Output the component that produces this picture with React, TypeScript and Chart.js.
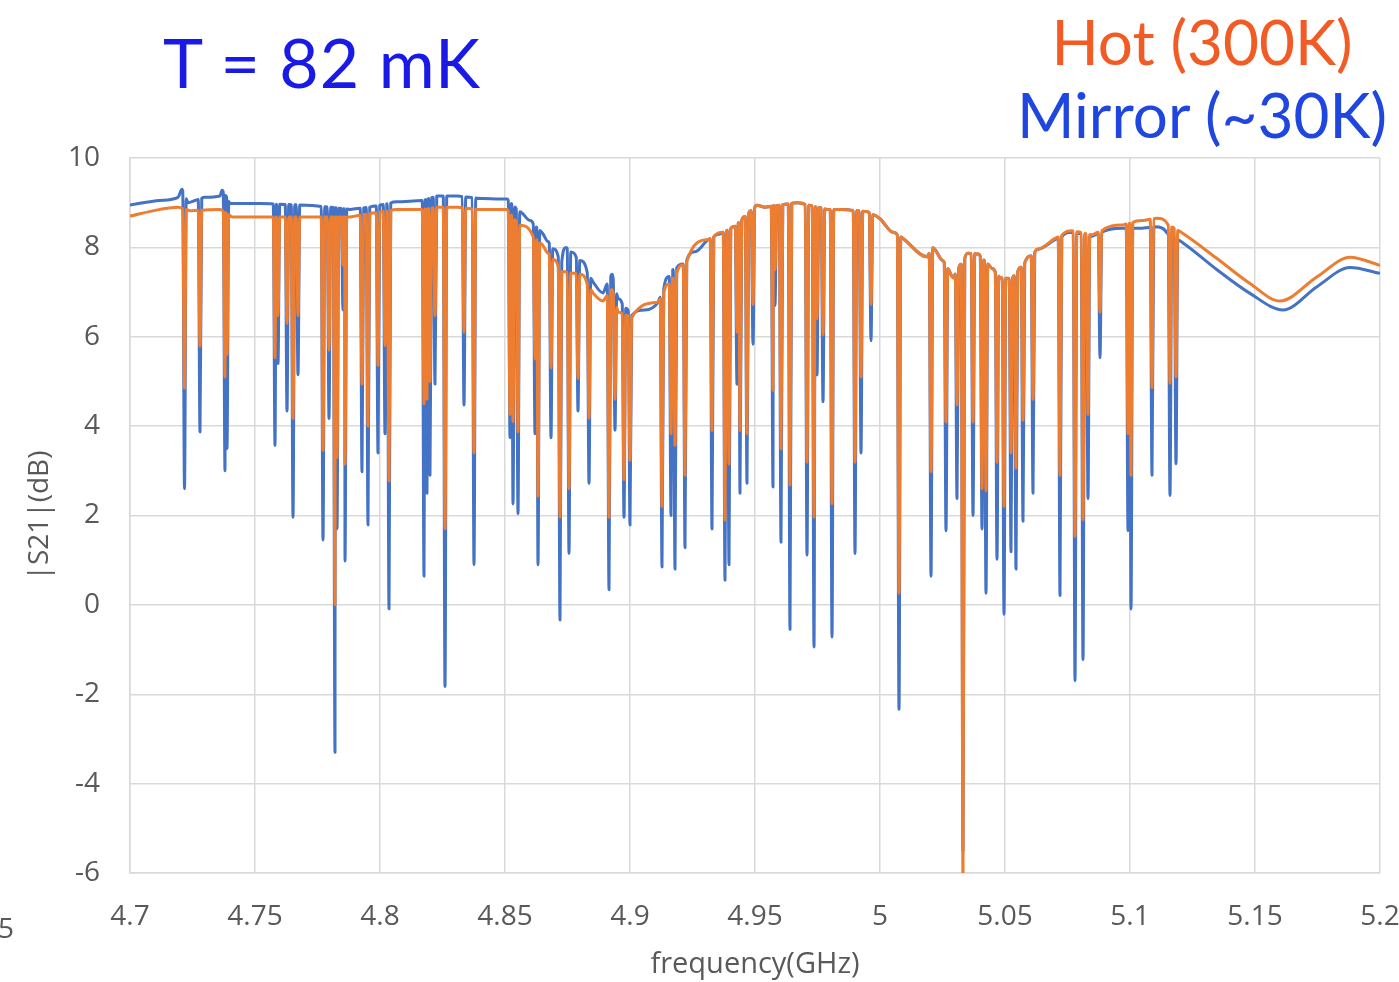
import React, { useEffect, useRef } from "react";
import { Chart, registerables } from "chart.js";

Chart.register(...registerables);

// ---- axis ticks ----
const xTickValues = [4.7, 4.75, 4.8, 4.85, 4.9, 4.95, 5.0, 5.05, 5.1, 5.15, 5.2];
const xTickLabels = ["4.7", "4.75", "4.8", "4.85", "4.9", "4.95", "5", "5.05", "5.1", "5.15", "5.2"];
const yTickValues = [-6, -4, -2, 0, 2, 4, 6, 8, 10];

// ---- Mirror (~30K) baseline (GHz, dB) ----
const mirrorBaseF = [
  4.7, 4.712, 4.7192, 4.7208, 4.7232, 4.726, 4.73, 4.736, 4.7368, 4.74, 4.752, 4.768, 4.78, 4.788,
  4.796, 4.8068, 4.8172, 4.8228, 4.8308, 4.8388, 4.8508, 4.8548, 4.86, 4.8652, 4.8672, 4.8728,
  4.8744, 4.88, 4.8852, 4.8892, 4.8928, 4.8952, 4.9008, 4.906, 4.9112, 4.9168, 4.9212, 4.926,
  4.9312, 4.936, 4.942, 4.9508, 4.954, 4.9668, 4.9788, 4.984, 4.9948, 5.0, 5.0052, 5.0092, 5.0188,
  5.0212, 5.0252, 5.0292, 5.0352, 5.0392, 5.0448, 5.048, 5.0528, 5.058, 5.0632, 5.07, 5.0768,
  5.0848, 5.0888, 5.0968, 5.1048, 5.11, 5.1212, 5.1348, 5.148, 5.1612, 5.1748, 5.188, 5.2,
];
const mirrorBaseV = [
  8.95, 9.05, 9.12, 9.3, 9.0, 9.05, 9.12, 9.15, 9.28, 8.98, 8.98, 8.95, 8.9, 8.85,
  8.9, 9.02, 9.05, 9.15, 9.15, 9.1, 9.08, 8.85, 8.6, 8.3, 8.13, 7.66,
  8.0, 7.7, 7.23, 6.98, 7.4, 6.85, 6.47, 6.6, 6.77, 7.49, 7.62, 7.9,
  8.17, 8.3, 8.47, 8.94, 8.9, 9.0, 8.85, 8.85, 8.8, 8.64, 8.34, 8.2, 7.79,
  8.0, 7.7, 7.32, 7.87, 7.85, 7.53, 7.32, 7.3, 7.66, 7.96, 8.17, 8.34,
  8.25, 8.34, 8.43, 8.43, 8.46, 8.1, 7.5, 6.97, 6.6, 7.12, 7.55, 7.42,
];

// ---- Hot (300K) baseline (GHz, dB) ----
const hotBaseF = [
  4.7, 4.712, 4.7192, 4.724, 4.736, 4.7408, 4.768, 4.78, 4.788, 4.8068, 4.8172, 4.8228, 4.8308,
  4.8388, 4.8508, 4.8548, 4.8652, 4.8672, 4.8728, 4.88, 4.8852, 4.8892, 4.8928, 4.8952, 4.9008,
  4.9112, 4.9168, 4.9212, 4.9312, 4.942, 4.9508, 4.954, 4.9668, 4.9788, 4.984, 4.9948, 5.0,
  5.0052, 5.0092, 5.0188, 5.0212, 5.0252, 5.0292, 5.0352, 5.0392, 5.0448, 5.048, 5.0528, 5.058,
  5.0632, 5.07, 5.0768, 5.0848, 5.0888, 5.0968, 5.1048, 5.1108, 5.1212, 5.1348, 5.148, 5.16,
  5.1748, 5.188, 5.2,
];
const hotBaseV = [
  8.7, 8.85, 8.9, 8.82, 8.85, 8.68, 8.68, 8.68, 8.68, 8.85, 8.85, 8.9, 8.9,
  8.85, 8.85, 8.55, 8.04, 7.87, 7.45, 7.4, 6.98, 6.8, 7.06, 6.55, 6.43,
  6.77, 7.28, 7.6, 8.17, 8.47, 8.94, 8.9, 9.0, 8.85, 8.85, 8.8, 8.64,
  8.34, 8.2, 7.79, 8.0, 7.7, 7.32, 7.87, 7.85, 7.53, 7.32, 7.3, 7.66,
  7.96, 8.2, 8.37, 8.28, 8.37, 8.5, 8.6, 8.65, 8.31, 7.75, 7.19, 6.8,
  7.34, 7.78, 7.6,
];

// ---- resonance dips: frequency (GHz), minimum for Mirror, minimum for Hot (dB) ----
const dipFreq = [
  4.7218, 4.728, 4.738, 4.7388, 4.758, 4.7592, 4.7628, 4.7652, 4.7672, 4.7772, 4.7796, 4.782,
  4.7828, 4.7852, 4.786, 4.7928, 4.7952, 4.7992, 4.802, 4.8036, 4.8176, 4.8188, 4.82, 4.822,
  4.826, 4.8336, 4.8376, 4.852, 4.8532, 4.8552, 4.862, 4.8632, 4.8684, 4.872, 4.8756, 4.8792,
  4.8836, 4.8916, 4.894, 4.8976, 4.9, 4.9128, 4.9164, 4.918, 4.922, 4.9328, 4.938, 4.9396,
  4.9428, 4.944, 4.9468, 4.9492, 4.9572, 4.958, 4.9604, 4.964, 4.9708, 4.9736, 4.9748, 4.9772,
  4.9808, 4.99, 4.9924, 4.9964, 5.0076, 5.0204, 5.0264, 5.0308, 5.0332, 5.0372, 5.0408, 5.0424,
  5.0468, 5.0496, 5.0524, 5.0544, 5.0572, 5.0612, 5.072, 5.078, 5.0812, 5.0832, 5.088, 5.0992,
  5.1004, 5.1088, 5.116, 5.1184,
];
const dipMirror = [
  2.6, 3.87, 3.0, 3.5, 3.57, 5.4, 4.34, 1.96, 5.15, 1.45, 4.17, -3.3,
  1.7, 6.6, 0.98, 2.98, 1.79, 3.4, 3.83, -0.09, 0.64, 2.5, 2.9, 4.94,
  -1.83, 4.47, 0.9, 3.74, 2.26, 2.04, 3.83, 0.9, 3.74, -0.34, 1.15, 4.34,
  2.72, 0.34, 3.91, 1.96, 1.79, 0.85, 2.0, 0.8, 1.28, 1.7, 0.55, 0.9,
  4.94, 2.5, 2.72, 5.83, 2.64, 6.7, 1.4, -0.55, 1.11, -0.94, 5.15, 4.55,
  -0.72, 1.15, 3.4, 5.91, -2.34, 0.64, 1.66, 2.38, -5.5, 2.0, 1.7, 0.26,
  1.02, -0.21, 1.19, 0.8, 1.87, 2.5, 0.21, -1.7, -1.23, 2.38, 5.53, 1.66,
  -0.09, 2.9, 2.45, 3.16,
];
const dipHot = [
  4.85, 5.79, 5.1, 5.6, 5.53, 6.47, 6.3, 4.17, 6.47, 3.45, 5.7, 0.0,
  3.3, 7.6, 3.15, 4.94, 4.0, 5.36, 5.8, 2.77, 4.5, 4.6, 5.0, 6.47,
  1.7, 6.1, 3.4, 4.26, 4.1, 3.87, 5.5, 2.43, 5.3, 1.96, 2.6, 5.06,
  4.17, 1.96, 4.6, 2.8, 3.23, 2.2, 3.83, 3.57, 2.9, 3.9, 1.9, 3.15,
  6.1, 3.9, 3.83, 6.72, 4.8, 7.5, 3.49, 2.68, 3.19, 1.96, 6.4, 6.04,
  2.26, 3.19, 5.1, 6.72, 0.26, 2.98, 4.09, 4.47, -6.2, 4.09, 2.6, 2.55,
  3.19, 2.2, 3.4, 3.06, 4.13, 4.6, 2.9, 1.53, 1.9, 4.26, 6.55, 3.83,
  2.9, 4.86, 4.96, 5.1,
];

const DIP_HALF_WIDTH = 0.0007;

function levelAt(fs: number[], vs: number[], f: number): number {
  if (f <= fs[0]) return vs[0];
  for (let i = 1; i < fs.length; i++) {
    if (f <= fs[i]) {
      const t = (f - fs[i - 1]) / (fs[i] - fs[i - 1]);
      return vs[i - 1] + t * (vs[i] - vs[i - 1]);
    }
  }
  return vs[vs.length - 1];
}

function buildSeries(fs: number[], vs: number[], mins: number[]) {
  const pts: { x: number; y: number }[] = [];
  fs.forEach((f, i) => {
    const nearDip = dipFreq.some((d) => Math.abs(d - f) < DIP_HALF_WIDTH * 1.2);
    if (!nearDip) pts.push({ x: f, y: vs[i] });
  });
  dipFreq.forEach((d, i) => {
    pts.push({ x: d - DIP_HALF_WIDTH, y: levelAt(fs, vs, d - DIP_HALF_WIDTH) });
    pts.push({ x: d, y: mins[i] });
    pts.push({ x: d + DIP_HALF_WIDTH, y: levelAt(fs, vs, d + DIP_HALF_WIDTH) });
  });
  pts.sort((a, b) => a.x - b.x);
  return pts;
}

const GRID = "#d9d9d9";
const TICK = "#595959";

export default function App() {
  const ref = useRef<HTMLCanvasElement | null>(null);

  useEffect(() => {
    if (!ref.current) return;
    const chart = new Chart(ref.current, {
      type: "line",
      data: {
        datasets: [
          {
            label: "Hot (300K)",
            data: buildSeries(hotBaseF, hotBaseV, dipHot),
            borderColor: "#ED7D31",
            borderWidth: 3,
            pointRadius: 0,
            cubicInterpolationMode: "monotone",
            borderJoinStyle: "round",
            order: 0,
          },
          {
            label: "Mirror (~30K)",
            data: buildSeries(mirrorBaseF, mirrorBaseV, dipMirror),
            borderColor: "#4472C4",
            borderWidth: 3,
            pointRadius: 0,
            cubicInterpolationMode: "monotone",
            borderJoinStyle: "round",
            order: 1,
          },
        ],
      },
      options: {
        responsive: false,
        maintainAspectRatio: false,
        devicePixelRatio: 1,
        animation: false,
        parsing: false,
        layout: { padding: { top: 158, right: 19, bottom: 0, left: 0 } },
        plugins: { legend: { display: false }, tooltip: { enabled: false } },
        scales: {
          x: {
            type: "linear",
            min: 4.7,
            max: 5.2,
            afterBuildTicks: (s: any) => {
              s.ticks = xTickValues.map((v) => ({ value: v }));
            },
            afterFit: (s: any) => {
              s.height = 109;
              s.paddingLeft = 0;
              s.paddingRight = 0;
            },
            grid: { color: GRID, lineWidth: 1.5, drawTicks: false },
            border: { color: GRID, width: 1.5 },
            ticks: {
              color: TICK,
              font: { family: "Open Sans", size: 28 },
              padding: 27,
              maxRotation: 0,
              autoSkip: false,
              callback: (_v: any, i: number) => xTickLabels[i],
            },
            title: {
              display: true,
              text: "frequency(GHz)",
              color: TICK,
              font: { family: "Open Sans", size: 29 },
              padding: { top: 0, bottom: 0 },
            },
          },
          y: {
            type: "linear",
            min: -6,
            max: 10,
            afterBuildTicks: (s: any) => {
              s.ticks = yTickValues.map((v) => ({ value: v }));
            },
            afterFit: (s: any) => {
              s.width = 130;
              s.paddingTop = 0;
              s.paddingBottom = 0;
            },
            grid: { color: GRID, lineWidth: 1.5, drawTicks: false },
            border: { color: GRID, width: 1.5 },
            ticks: {
              color: TICK,
              font: { family: "Open Sans", size: 28 },
              padding: 30,
              autoSkip: false,
              callback: (v: any) => String(v),
            },
            title: {
              display: true,
              text: "|S21|(dB)",
              color: TICK,
              font: { family: "Open Sans", size: 28 },
              padding: { top: 23, bottom: 0 },
            },
          },
        },
      },
    });
    return () => chart.destroy();
  }, []);

  return (
    <div style={{ position: "absolute", left: 0, top: 0, width: 1399, height: 982, background: "#fff", overflow: "hidden" }}>
      <canvas ref={ref} width={1399} height={982} style={{ position: "absolute", left: 0, top: 0 }} />
      <div
        style={{
          position: "absolute",
          left: 163,
          top: 28,
          fontFamily: "Lato",
          fontSize: 68,
          lineHeight: "68px",
          color: "#1a1ae6",
          whiteSpace: "nowrap",
          letterSpacing: 1,
        }}
      >
        T = 82 mK
      </div>
      <div
        style={{
          position: "absolute",
          left: 952,
          width: 500,
          top: 10,
          textAlign: "center",
          fontFamily: "Lato",
          fontSize: 62,
          lineHeight: "62px",
          color: "#f25c24",
          whiteSpace: "nowrap",
        }}
      >
        Hot (300K)
      </div>
      <div
        style={{
          position: "absolute",
          left: 952,
          width: 500,
          top: 83,
          textAlign: "center",
          fontFamily: "Lato",
          fontSize: 62,
          lineHeight: "62px",
          color: "#2046e0",
          whiteSpace: "nowrap",
        }}
      >
        Mirror (~30K)
      </div>
      <div
        style={{
          position: "absolute",
          left: -2,
          top: 910,
          fontFamily: "Open Sans",
          fontSize: 28,
          lineHeight: "34px",
          color: TICK,
        }}
      >
        5
      </div>
    </div>
  );
}
